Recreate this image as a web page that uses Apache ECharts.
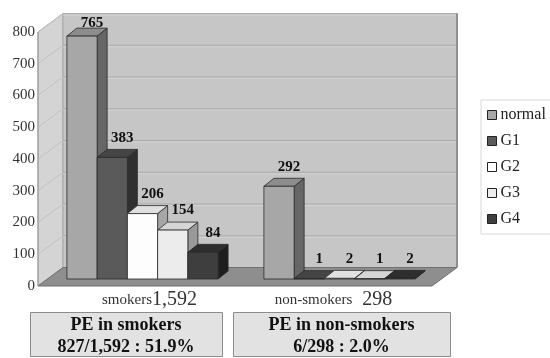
<!DOCTYPE html>
<html>
<head>
<meta charset="utf-8">
<script src="https://cdn.jsdelivr.net/npm/echarts@6/dist/echarts.min.js"></script>
<style>
  html, body { margin: 0; padding: 0; background: #ffffff; }
  #chart { width: 550px; height: 358px; }
</style>
</head>
<body>
<div id="chart"></div>
<script>
// ---- data ----
const groups = ['smokers', 'non-smokers'];
const seriesNames = ['normal', 'G1', 'G2', 'G3', 'G4'];
const normal = [765, 292];
const g1 = [383, 1];
const g2 = [206, 2];
const g3 = [154, 1];
const g4 = [84, 2];
const yTicks = [0, 100, 200, 300, 400, 500, 600, 700, 800];

const seriesValues = [normal, g1, g2, g3, g4];

// group totals and PE (G1..G4) counts derived from the series
const totals = groups.map((_, i) => seriesValues.reduce((s, arr) => s + arr[i], 0));
const peCounts = groups.map((_, i) => g1[i] + g2[i] + g3[i] + g4[i]);

// ---- styling ----
const FONT = 'Liberation Serif';
const WALL = { x: 25, y: -18.5 };      // depth of the floor / walls
const BAR_DEPTH = { x: 10, y: -8 };    // depth of each bar block
const BAR_SHIFT = { x: 6, y: -7 };     // bars stand a little inside the floor
const BAR_RATIO = 0.1535;              // one bar's width relative to the category band
const LABEL_SIZE = 15;
const shades = [
  { front: '#a7a7a7', top: '#8d8d8d', side: '#666666' },
  { front: '#5a5a5a', top: '#454545', side: '#303030' },
  { front: '#fdfdfd', top: '#e0e0e0', side: '#a6a6a6' },
  { front: '#ececec', top: '#d6d6d6', side: '#999999' },
  { front: '#3e3e3e', top: '#2e2e2e', side: '#1e1e1e' }
];

const fmt = n => n.toLocaleString('en-US');

function renderFrame(params, api) {
  const cs = params.coordSys;
  const x0 = cs.x, x1 = cs.x + cs.width;
  const yTop = api.coord([0, yTicks[yTicks.length - 1]])[1];
  const yBot = api.coord([0, 0])[1];
  const dx = WALL.x, dy = WALL.y;
  const children = [];
  // left side wall
  children.push({
    type: 'polygon',
    shape: { points: [[x0, yTop], [x0 + dx, yTop + dy], [x0 + dx, yBot + dy], [x0, yBot]] },
    style: { fill: '#d4d4d4', stroke: '#a5a5a5', lineWidth: 1 }
  });
  // back wall
  children.push({
    type: 'rect',
    shape: { x: x0 + dx, y: yTop + dy, width: cs.width, height: yBot - yTop },
    style: { fill: '#c6c6c6', stroke: '#a9a9a9', lineWidth: 1 }
  });
  // grid lines on both walls
  yTicks.forEach(v => {
    const y = api.coord([0, v])[1];
    if (v > 0) {
      children.push({
        type: 'line',
        shape: { x1: x0 + dx, y1: y + dy, x2: x1 + dx, y2: y + dy },
        style: { stroke: '#ababab', lineWidth: 1 }
      });
      children.push({
        type: 'line',
        shape: { x1: x0 + dx, y1: y + dy + 1.5, x2: x1 + dx, y2: y + dy + 1.5 },
        style: { stroke: '#d2d2d2', lineWidth: 1 }
      });
      children.push({
        type: 'line',
        shape: { x1: x0, y1: y, x2: x0 + dx, y2: y + dy },
        style: { stroke: '#c2c2c2', lineWidth: 1 }
      });
    }
  });
  // shaded right edge of back wall
  children.push({
    type: 'line',
    shape: { x1: x1 + dx, y1: yTop + dy, x2: x1 + dx, y2: yBot + dy },
    style: { stroke: '#8f8f8f', lineWidth: 2 }
  });
  // floor
  children.push({
    type: 'polygon',
    shape: { points: [[x0, yBot], [x0 + dx, yBot + dy], [x1 + dx, yBot + dy], [x1, yBot]] },
    style: { fill: '#8e8e8e', stroke: '#707070', lineWidth: 1 }
  });
  // front edge of the side wall
  children.push({
    type: 'line',
    shape: { x1: x0, y1: yTop, x2: x0, y2: yBot },
    style: { stroke: '#9a9a9a', lineWidth: 1 }
  });
  return { type: 'group', children };
}

function makeBarRenderer(k) {
  return function (params, api) {
    const cat = api.value(0), val = api.value(1);
    const band = api.size([1, 0])[0];
    const w = band * BAR_RATIO;
    const base = api.coord([cat, 0]);
    const top = api.coord([cat, val]);
    const xl = base[0] - 2.5 * w + k * w + BAR_SHIFT.x;
    const xr = xl + w;
    const yb = base[1] + BAR_SHIFT.y;
    const yt = top[1] + BAR_SHIFT.y;
    const dx = BAR_DEPTH.x, dy = BAR_DEPTH.y;
    const c = shades[k];
    const edge = { stroke: '#2a2a2a', lineWidth: 0.8, lineJoin: 'round' };
    // keep value labels inside the back wall's top edge
    const wallTop = api.coord([0, yTicks[yTicks.length - 1]])[1] + WALL.y;
    const labelBottom = Math.max(yt + dy - 4, wallTop + 2 + LABEL_SIZE);
    return {
      type: 'group',
      children: [
        {
          type: 'polygon',
          shape: { points: [[xr, yb], [xr, yt], [xr + dx, yt + dy], [xr + dx, yb + dy]] },
          style: Object.assign({ fill: c.side }, edge)
        },
        {
          type: 'polygon',
          shape: { points: [[xl, yt], [xl + dx, yt + dy], [xr + dx, yt + dy], [xr, yt]] },
          style: Object.assign({ fill: c.top }, edge)
        },
        {
          type: 'rect',
          shape: { x: xl, y: yt, width: w, height: Math.max(yb - yt, 0.01) },
          style: Object.assign({ fill: c.front }, edge)
        },
        {
          type: 'text',
          x: xl + w / 2 + dx,
          y: labelBottom,
          z2: 10,
          style: {
            text: String(val),
            fill: '#111',
            font: 'bold ' + LABEL_SIZE + 'px "' + FONT + '"',
            align: 'center',
            verticalAlign: 'bottom'
          }
        }
      ]
    };
  };
}

const series = [{
  type: 'custom',
  name: 'frame',
  silent: true,
  z: 1,
  renderItem: renderFrame,
  data: [[0, 0]],
  encode: { x: 0, y: 1 }
}];

seriesNames.forEach((name, k) => {
  series.push({
    type: 'custom',
    name: name,
    z: 2,
    itemStyle: { color: shades[k].front },
    renderItem: makeBarRenderer(k),
    data: seriesValues[k].map((v, i) => [i, v]),
    encode: { x: 0, y: 1 }
  });
});

// summary boxes under the chart
const boxes = [
  { x: 30, w: 192 },
  { x: 233, w: 217 }
];
const boxLines = groups.map((g, i) => [
  'PE in ' + g,
  fmt(peCounts[i]) + '/' + fmt(totals[i]) + ' : ' + (peCounts[i] / totals[i] * 100).toFixed(1) + '%'
]);
const graphic = [];
boxes.forEach((b, i) => {
  graphic.push({
    type: 'rect',
    left: b.x, top: 312,
    shape: { width: b.w, height: 44 },
    style: { fill: '#e2e2e2', stroke: '#8c8c8c', lineWidth: 1 }
  });
  boxLines[i].forEach((t, j) => {
    graphic.push({
      type: 'text',
      x: b.x + b.w / 2,
      y: 325 + j * 22,
      style: {
        text: t,
        fill: '#111',
        font: 'bold 18px "' + FONT + '"',
        align: 'center',
        verticalAlign: 'middle'
      }
    });
  });
});

const chart = echarts.init(document.getElementById('chart'), null, { renderer: 'canvas' });
chart.setOption({
  animation: false,
  backgroundColor: '#ffffff',
  grid: { left: 38, right: 118, top: 32, bottom: 72 },
  legend: {
    data: seriesNames,
    orient: 'vertical',
    left: 481,
    top: 100,
    padding: [7, 10, 7, 6],
    itemGap: 10,
    itemWidth: 9,
    itemHeight: 9,
    icon: 'rect',
    borderColor: '#d8d8d8',
    borderWidth: 1,
    itemStyle: { borderColor: '#222', borderWidth: 1 },
    textStyle: { fontFamily: FONT, fontSize: 16, color: '#222', padding: [0, 0, 0, -1] }
  },
  xAxis: {
    type: 'category',
    data: groups,
    boundaryGap: true,
    axisLine: { show: false },
    axisTick: { show: false },
    axisLabel: {
      margin: 4,
      formatter: (v, i) => i === 0
        ? '{n0|' + v + '}{t|' + fmt(totals[i]) + '}'
        : '{n|' + v + '}{t1|' + fmt(totals[i]) + '}',
      rich: {
        n0: { fontFamily: FONT, fontSize: 15, color: '#333', padding: [0, 0, 0, 26] },
        n: { fontFamily: FONT, fontSize: 15, color: '#333' },
        t: { fontFamily: FONT, fontSize: 20, color: '#333' },
        t1: { fontFamily: FONT, fontSize: 20, color: '#333', padding: [0, 0, 0, 10] }
      }
    }
  },
  yAxis: {
    type: 'value',
    min: 0,
    max: 800,
    interval: 100,
    axisLine: { show: false },
    axisTick: { show: false },
    splitLine: { show: false },
    axisLabel: { margin: 3, fontFamily: FONT, fontSize: 15, color: '#333' }
  },
  graphic: graphic,
  series: series
});
</script>
</body>
</html>
